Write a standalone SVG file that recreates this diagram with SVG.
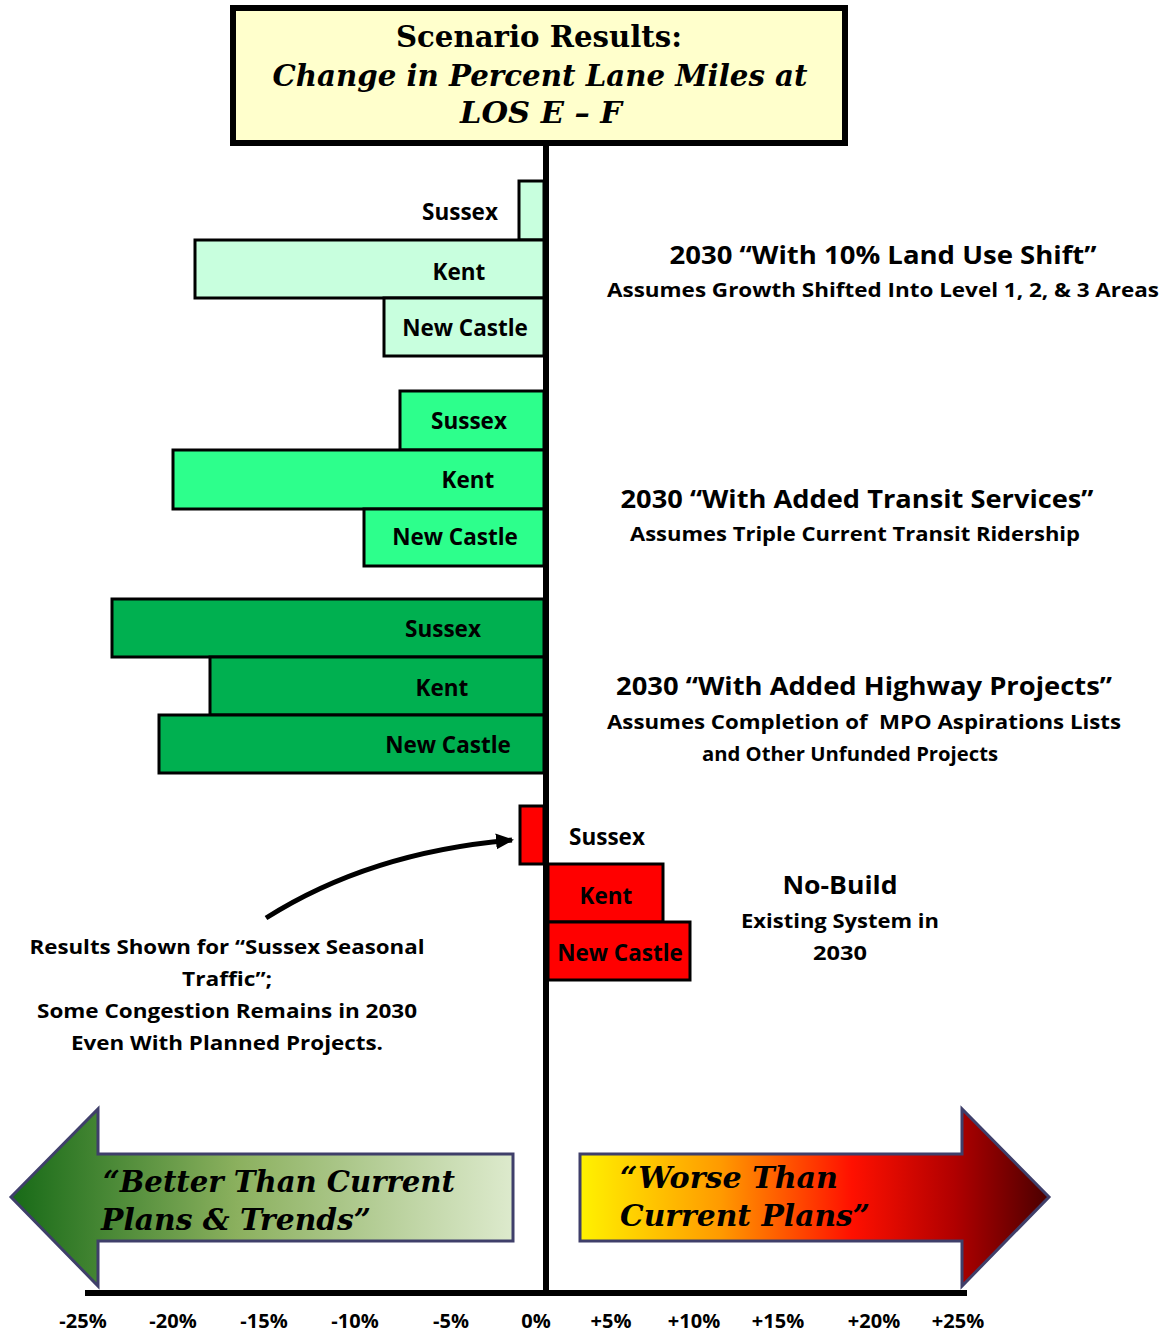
<svg xmlns="http://www.w3.org/2000/svg" width="1174" height="1335" viewBox="0 0 1174 1335">
<defs>
<style>
.t{font-family:"Open Sans",Lato,"Liberation Sans",sans-serif;font-weight:bold;fill:#000;text-anchor:middle}
.bar{stroke:#000;stroke-width:3}
.g1{fill:#C8FFDE}
.g2{fill:#2DFF8C}
.g3{fill:#00B050}
.g4{fill:#FF0000}
.ser{font-family:"DejaVu Serif","Liberation Serif",serif;font-weight:bold;font-style:italic;fill:#000}
.up{font-style:normal}
.lab{font-size:22.5px}
.big{font-size:25px}
.sm{font-size:20px}
.ax{font-size:20px}
</style>
<linearGradient id="gl" x1="0" y1="0" x2="1" y2="0">
<stop offset="0" stop-color="#176A17"/>
<stop offset="0.45" stop-color="#8BB05E"/>
<stop offset="1" stop-color="#DDEACD"/>
</linearGradient>
<linearGradient id="gr" x1="0" y1="0" x2="1" y2="0">
<stop offset="0" stop-color="#FFF200"/>
<stop offset="0.3" stop-color="#FF9A00"/>
<stop offset="0.58" stop-color="#FF1000"/>
<stop offset="0.8" stop-color="#B00000"/>
<stop offset="1" stop-color="#4A0000"/>
</linearGradient>
<marker id="ah" markerWidth="18" markerHeight="16" refX="16" refY="8" orient="auto" markerUnits="userSpaceOnUse">
<path d="M0,0 L18,8 L0,16 z" fill="#000"/>
</marker>
</defs>
<rect width="1174" height="1335" fill="#fff"/>

<g id="title">
<rect x="233" y="8" width="612" height="135" fill="#FFFFCC" stroke="#000" stroke-width="6"/>
<text x="539" y="47" class="ser up" font-size="29" text-anchor="middle" textLength="286" lengthAdjust="spacingAndGlyphs">Scenario Results:</text>
<text x="540" y="86" class="ser" font-size="29" text-anchor="middle" textLength="535" lengthAdjust="spacingAndGlyphs">Change in Percent Lane Miles at</text>
<text x="541" y="123" class="ser" font-size="29" text-anchor="middle" textLength="162" lengthAdjust="spacingAndGlyphs">LOS E – F</text>
</g>

<g id="bars-landuse">
<rect class="bar g1" x="519" y="181" width="25" height="59"/>
<rect class="bar g1" x="195" y="240" width="349" height="58"/>
<rect class="bar g1" x="384" y="298" width="160" height="58"/>
<text class="t lab" x="460" y="220">Sussex</text>
<text class="t lab" x="459" y="280">Kent</text>
<text class="t lab" x="465" y="336">New Castle</text>
</g>

<g id="bars-transit">
<rect class="bar g2" x="400" y="391" width="144" height="59"/>
<rect class="bar g2" x="173" y="450" width="371" height="59"/>
<rect class="bar g2" x="364" y="509" width="180" height="57"/>
<text class="t lab" x="469" y="429">Sussex</text>
<text class="t lab" x="468" y="488">Kent</text>
<text class="t lab" x="455" y="545">New Castle</text>
</g>

<g id="bars-highway">
<rect class="bar g3" x="112" y="599" width="432" height="58"/>
<rect class="bar g3" x="210" y="657" width="334" height="58"/>
<rect class="bar g3" x="159" y="715" width="385" height="58"/>
<text class="t lab" x="443" y="637">Sussex</text>
<text class="t lab" x="442" y="696">Kent</text>
<text class="t lab" x="448" y="753">New Castle</text>
</g>

<g id="bars-nobuild">
<rect class="bar g4" x="520" y="806" width="24" height="58"/>
<rect class="bar g4" x="548" y="864" width="115" height="58"/>
<rect class="bar g4" x="548" y="922" width="142" height="58"/>
<text class="t lab" x="607" y="845">Sussex</text>
<text class="t lab" x="606" y="904">Kent</text>
<text class="t lab" x="620" y="961">New Castle</text>
</g>

<g id="axes">
<line x1="546" y1="145" x2="546" y2="1296" stroke="#000" stroke-width="6"/>
<line x1="85" y1="1293" x2="967" y2="1293" stroke="#000" stroke-width="6"/>
</g>

<g id="desc">
<text class="t big" x="883" y="264" textLength="427" lengthAdjust="spacingAndGlyphs">2030 “With 10% Land Use Shift”</text>
<text class="t sm" x="883" y="297" textLength="552" lengthAdjust="spacingAndGlyphs">Assumes Growth Shifted Into Level 1, 2, &amp; 3 Areas</text>
<text class="t big" x="857" y="508" textLength="473" lengthAdjust="spacingAndGlyphs">2030 “With Added Transit Services”</text>
<text class="t sm" x="855" y="541" textLength="450" lengthAdjust="spacingAndGlyphs">Assumes Triple Current Transit Ridership</text>
<text class="t big" x="864" y="695" textLength="496" lengthAdjust="spacingAndGlyphs">2030 “With Added Highway Projects”</text>
<text class="t sm" x="864" y="729" textLength="514" lengthAdjust="spacingAndGlyphs" xml:space="preserve">Assumes Completion of  MPO Aspirations Lists</text>
<text class="t sm" x="850" y="761" textLength="296" lengthAdjust="spacingAndGlyphs">and Other Unfunded Projects</text>
<text class="t big" x="840" y="894" textLength="115" lengthAdjust="spacingAndGlyphs">No-Build</text>
<text class="t sm" x="840" y="928" textLength="198" lengthAdjust="spacingAndGlyphs">Existing System in</text>
<text class="t sm" x="840" y="960" textLength="54" lengthAdjust="spacingAndGlyphs">2030</text>
</g>

<g id="note">
<text class="t sm" x="227" y="954" textLength="395" lengthAdjust="spacingAndGlyphs">Results Shown for “Sussex Seasonal</text>
<text class="t sm" x="227" y="986" textLength="90" lengthAdjust="spacingAndGlyphs">Traffic”;</text>
<text class="t sm" x="227" y="1018" textLength="380" lengthAdjust="spacingAndGlyphs">Some Congestion Remains in 2030</text>
<text class="t sm" x="227" y="1050" textLength="312" lengthAdjust="spacingAndGlyphs">Even With Planned Projects.</text>
</g>

<g id="connectors">
<path d="M266,918 Q370,852 512,840" fill="none" stroke="#000" stroke-width="5" marker-end="url(#ah)"/>
</g>

<g id="arrow-better">
<path d="M11,1197 L98,1109 L98,1154 L513,1154 L513,1241 L98,1241 L98,1286 Z" fill="url(#gl)" stroke="#3F3F6A" stroke-width="3"/>
<text class="ser" font-size="30" x="103" y="1192" textLength="352" lengthAdjust="spacingAndGlyphs">“Better Than Current</text>
<text class="ser" font-size="30" x="101" y="1230" textLength="270" lengthAdjust="spacingAndGlyphs">Plans &amp; Trends”</text>
</g>

<g id="arrow-worse">
<path d="M580,1154 L962,1154 L962,1109 L1049,1197 L962,1286 L962,1241 L580,1241 Z" fill="url(#gr)" stroke="#3F3F6A" stroke-width="3"/>
<text class="ser" font-size="30" x="620" y="1188" textLength="218" lengthAdjust="spacingAndGlyphs">“Worse Than</text>
<text class="ser" font-size="30" x="620" y="1226" textLength="250" lengthAdjust="spacingAndGlyphs">Current Plans”</text>
</g>

<g id="axis-labels">
<text class="t ax" x="83" y="1328">-25%</text>
<text class="t ax" x="173" y="1328">-20%</text>
<text class="t ax" x="264" y="1328">-15%</text>
<text class="t ax" x="355" y="1328">-10%</text>
<text class="t ax" x="451" y="1328">-5%</text>
<text class="t ax" x="536" y="1328">0%</text>
<text class="t ax" x="611" y="1328">+5%</text>
<text class="t ax" x="694" y="1328">+10%</text>
<text class="t ax" x="778" y="1328">+15%</text>
<text class="t ax" x="874" y="1328">+20%</text>
<text class="t ax" x="958" y="1328">+25%</text>
</g>
</svg>
